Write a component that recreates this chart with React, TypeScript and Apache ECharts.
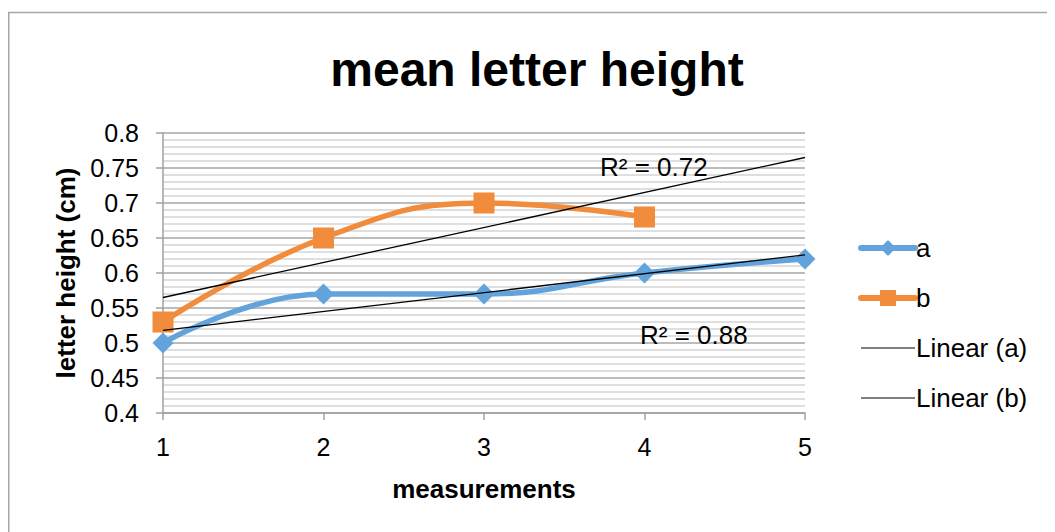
import React, { useEffect, useRef } from "react";
import * as echarts from "echarts";

const measurements = [1, 2, 3, 4, 5];
const seriesA = [0.5, 0.57, 0.57, 0.6, 0.62];
const seriesB = [0.53, 0.65, 0.7, 0.68];
const yTickLabels = ["0.4", "0.45", "0.5", "0.55", "0.6", "0.65", "0.7", "0.75", "0.8"];
const r2Labels = ["R² = 0.88", "R² = 0.72"];

const FONT = "'Liberation Sans', Arial, sans-serif";

function linearFit(ys: number[]) {
  const xs = ys.map((_, i) => measurements[i]);
  const n = ys.length;
  const mx = xs.reduce((s, v) => s + v, 0) / n;
  const my = ys.reduce((s, v) => s + v, 0) / n;
  let sxy = 0, sxx = 0;
  for (let i = 0; i < n; i++) {
    sxy += (xs[i] - mx) * (ys[i] - my);
    sxx += (xs[i] - mx) * (xs[i] - mx);
  }
  const slope = sxy / sxx;
  const b = my - slope * mx;
  const x0 = measurements[0];
  const x1 = measurements[measurements.length - 1];
  return [
    [x0, slope * x0 + b],
    [x1, slope * x1 + b],
  ];
}

const thinLineIcon = "path://M0,0 M54,20 M0,9.4 L54,9.4 L54,10.6 L0,10.6 Z";

export default function App() {
  const ref = useRef<HTMLDivElement>(null);
  useEffect(() => {
    document.body.style.overflow = "hidden";
    const chart = echarts.init(ref.current!, undefined, { renderer: "svg" });
    const blue = "#62A3DC";
    const orange = "#F08C3C";
    chart.setOption({
      animation: false,
      backgroundColor: "#ffffff",
      textStyle: { fontFamily: FONT },
      title: {
        text: "mean letter height",
        left: 524,
        top: 32,
        textAlign: "center",
        textStyle: { fontSize: 48, fontWeight: "bold", color: "#000", fontFamily: FONT },
      },
      grid: { left: 155, top: 125, right: 250, bottom: 119 },
      legend: {
        orient: "vertical",
        left: 845,
        top: 222,
        itemWidth: 54,
        itemHeight: 20,
        itemGap: 24,
        textStyle: { fontSize: 26, color: "#000", fontFamily: FONT, padding: [0, 0, 0, -4] },
        data: [
          { name: "a", lineStyle: { width: 6, cap: "round" } },
          { name: "b", lineStyle: { width: 6, cap: "round" } },
          { name: "Linear (a)", icon: thinLineIcon, itemStyle: { color: "#000" } },
          { name: "Linear (b)", icon: thinLineIcon, itemStyle: { color: "#000" } },
        ],
      },
      xAxis: {
        type: "value",
        min: 1,
        max: 5,
        interval: 1,
        name: "measurements",
        nameLocation: "middle",
        nameGap: 63,
        nameTextStyle: { fontSize: 26, fontWeight: "bold", color: "#000", fontFamily: FONT },
        axisLine: { lineStyle: { color: "#a0a0a0", width: 1.5 } },
        axisTick: { show: true, length: 7, lineStyle: { color: "#a0a0a0", width: 1.5 } },
        axisLabel: { fontSize: 25, color: "#000", margin: 21, fontFamily: FONT },
        splitLine: { show: false },
      },
      yAxis: {
        type: "value",
        min: 0.4,
        max: 0.8,
        interval: 0.05,
        name: "letter height (cm)",
        nameLocation: "middle",
        nameGap: 82,
        nameRotate: 90,
        nameTextStyle: { fontSize: 26, fontWeight: "bold", color: "#000", fontFamily: FONT },
        axisLine: { show: true, lineStyle: { color: "#a0a0a0", width: 1.5 } },
        axisTick: { show: true, inside: false, length: 7, lineStyle: { color: "#a0a0a0", width: 1.5 } },
        axisLabel: {
          fontSize: 25,
          color: "#000",
          margin: 24,
          fontFamily: FONT,
          formatter: (v: number) => {
            const idx = Math.round((v - 0.4) / 0.05);
            return yTickLabels[idx] ?? "";
          },
        },
        splitLine: { show: true, lineStyle: { color: "#a6a6a6", width: 1.5 } },
        minorTick: { show: false, splitNumber: 5 },
        minorSplitLine: { show: true, lineStyle: { color: "#d4d4d4", width: 1.5 } },
      },
      graphic: [
        {
          type: "rect",
          shape: { x: 0.75, y: 4.5, width: 2000, height: 2000 },
          style: { fill: "none", stroke: "#a6a6a6", lineWidth: 1.5 },
          silent: true,
          z: 100,
        },
        {
          type: "text",
          left: 592,
          top: 146,
          style: { text: r2Labels[1], fontSize: 26, fill: "#000", fontFamily: FONT },
          z: 100,
        },
        {
          type: "text",
          left: 632,
          top: 314,
          style: { text: r2Labels[0], fontSize: 26, fill: "#000", fontFamily: FONT },
          z: 100,
        },
      ],
      series: [
        {
          name: "a",
          type: "line",
          data: seriesA.map((v, i) => [measurements[i], v]),
          smooth: 0.45,
          symbol: "diamond",
          symbolSize: 21,
          lineStyle: { color: blue, width: 5.5 },
          itemStyle: { color: blue },
          z: 3,
        },
        {
          name: "b",
          type: "line",
          data: seriesB.map((v, i) => [measurements[i], v]),
          smooth: 0.45,
          symbol: "rect",
          symbolSize: 21,
          lineStyle: { color: orange, width: 5.5 },
          itemStyle: { color: orange },
          z: 4,
        },
        {
          name: "Linear (a)",
          type: "line",
          data: linearFit(seriesA),
          symbol: "none",
          lineStyle: { color: "#000", width: 1.3 },
          itemStyle: { color: "#000" },
          z: 5,
        },
        {
          name: "Linear (b)",
          type: "line",
          data: linearFit(seriesB),
          symbol: "none",
          lineStyle: { color: "#000", width: 1.3 },
          itemStyle: { color: "#000" },
          z: 5,
        },
      ],
    });
    return () => chart.dispose();
  }, []);
  return <div ref={ref} style={{ width: 1047, height: 524 }} />;
}
